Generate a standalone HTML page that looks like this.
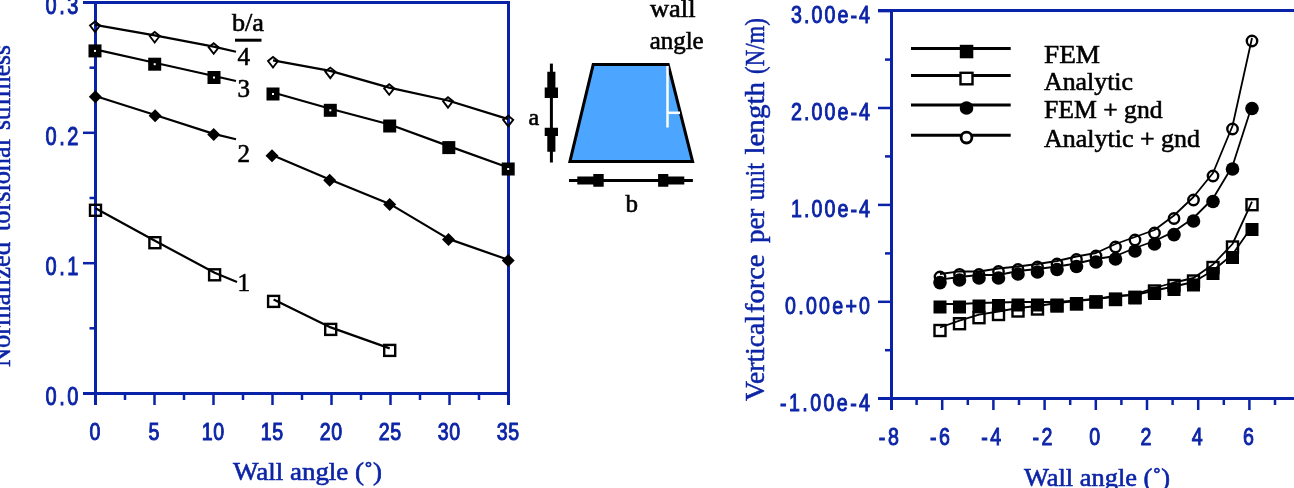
<!DOCTYPE html>
<html><head><meta charset="utf-8"><style>
text{-webkit-font-smoothing:antialiased;}
html,body{margin:0;padding:0;background:#fff;}
svg{display:block;will-change:transform;}
</style></head><body>
<svg width="1294" height="488" viewBox="0 0 1294 488">
<rect width="1294" height="488" fill="#fff"/>
<line x1="83.0" y1="2.5" x2="510.0" y2="2.5" stroke="#0a22a8" stroke-width="3"/>
<line x1="95.5" y1="1.0" x2="95.5" y2="405.0" stroke="#0a22a8" stroke-width="3"/>
<line x1="508.5" y1="1.0" x2="508.5" y2="405.0" stroke="#0a22a8" stroke-width="3"/>
<line x1="83.0" y1="393.5" x2="510.0" y2="393.5" stroke="#0a22a8" stroke-width="3"/>
<line x1="83.0" y1="263.2" x2="95.5" y2="263.2" stroke="#0a22a8" stroke-width="2.5"/>
<line x1="83.0" y1="132.8" x2="95.5" y2="132.8" stroke="#0a22a8" stroke-width="2.5"/>
<line x1="89.5" y1="328.3" x2="95.5" y2="328.3" stroke="#0a22a8" stroke-width="2.5"/>
<line x1="89.5" y1="198.0" x2="95.5" y2="198.0" stroke="#0a22a8" stroke-width="2.5"/>
<line x1="89.5" y1="67.7" x2="95.5" y2="67.7" stroke="#0a22a8" stroke-width="2.5"/>
<line x1="154.5" y1="393.5" x2="154.5" y2="405.0" stroke="#0a22a8" stroke-width="2.5"/>
<line x1="213.5" y1="393.5" x2="213.5" y2="405.0" stroke="#0a22a8" stroke-width="2.5"/>
<line x1="272.5" y1="393.5" x2="272.5" y2="405.0" stroke="#0a22a8" stroke-width="2.5"/>
<line x1="331.5" y1="393.5" x2="331.5" y2="405.0" stroke="#0a22a8" stroke-width="2.5"/>
<line x1="390.5" y1="393.5" x2="390.5" y2="405.0" stroke="#0a22a8" stroke-width="2.5"/>
<line x1="449.5" y1="393.5" x2="449.5" y2="405.0" stroke="#0a22a8" stroke-width="2.5"/>
<line x1="125.0" y1="393.5" x2="125.0" y2="400.0" stroke="#0a22a8" stroke-width="2.5"/>
<line x1="184.0" y1="393.5" x2="184.0" y2="400.0" stroke="#0a22a8" stroke-width="2.5"/>
<line x1="243.0" y1="393.5" x2="243.0" y2="400.0" stroke="#0a22a8" stroke-width="2.5"/>
<line x1="302.0" y1="393.5" x2="302.0" y2="400.0" stroke="#0a22a8" stroke-width="2.5"/>
<line x1="361.0" y1="393.5" x2="361.0" y2="400.0" stroke="#0a22a8" stroke-width="2.5"/>
<line x1="420.0" y1="393.5" x2="420.0" y2="400.0" stroke="#0a22a8" stroke-width="2.5"/>
<line x1="479.0" y1="393.5" x2="479.0" y2="400.0" stroke="#0a22a8" stroke-width="2.5"/>
<text transform="translate(78.5,14.3) scale(0.8,1)" font-family="Liberation Sans" font-size="25" fill="#0c24a6" stroke="#0c24a6" stroke-width="1.0" text-anchor="end" textLength="41.25" lengthAdjust="spacing">0.3</text>
<text transform="translate(78.5,144.6) scale(0.8,1)" font-family="Liberation Sans" font-size="25" fill="#0c24a6" stroke="#0c24a6" stroke-width="1.0" text-anchor="end" textLength="41.25" lengthAdjust="spacing">0.2</text>
<text transform="translate(78.5,275.0) scale(0.8,1)" font-family="Liberation Sans" font-size="25" fill="#0c24a6" stroke="#0c24a6" stroke-width="1.0" text-anchor="end" textLength="41.25" lengthAdjust="spacing">0.1</text>
<text transform="translate(78.5,405.3) scale(0.8,1)" font-family="Liberation Sans" font-size="25" fill="#0c24a6" stroke="#0c24a6" stroke-width="1.0" text-anchor="end" textLength="41.25" lengthAdjust="spacing">0.0</text>
<text transform="translate(95.0,439.5) scale(0.8,1)" font-family="Liberation Sans" font-size="24.5" fill="#0c24a6" stroke="#0c24a6" stroke-width="1.0" text-anchor="middle" textLength="13.12" lengthAdjust="spacing">0</text>
<text transform="translate(154.0,439.5) scale(0.8,1)" font-family="Liberation Sans" font-size="24.5" fill="#0c24a6" stroke="#0c24a6" stroke-width="1.0" text-anchor="middle" textLength="13.12" lengthAdjust="spacing">5</text>
<text transform="translate(213.0,439.5) scale(0.8,1)" font-family="Liberation Sans" font-size="24.5" fill="#0c24a6" stroke="#0c24a6" stroke-width="1.0" text-anchor="middle" textLength="28.12" lengthAdjust="spacing">10</text>
<text transform="translate(272.0,439.5) scale(0.8,1)" font-family="Liberation Sans" font-size="24.5" fill="#0c24a6" stroke="#0c24a6" stroke-width="1.0" text-anchor="middle" textLength="28.12" lengthAdjust="spacing">15</text>
<text transform="translate(331.0,439.5) scale(0.8,1)" font-family="Liberation Sans" font-size="24.5" fill="#0c24a6" stroke="#0c24a6" stroke-width="1.0" text-anchor="middle" textLength="28.12" lengthAdjust="spacing">20</text>
<text transform="translate(390.0,439.5) scale(0.8,1)" font-family="Liberation Sans" font-size="24.5" fill="#0c24a6" stroke="#0c24a6" stroke-width="1.0" text-anchor="middle" textLength="28.12" lengthAdjust="spacing">25</text>
<text transform="translate(449.0,439.5) scale(0.8,1)" font-family="Liberation Sans" font-size="24.5" fill="#0c24a6" stroke="#0c24a6" stroke-width="1.0" text-anchor="middle" textLength="28.12" lengthAdjust="spacing">30</text>
<text transform="translate(508.0,439.5) scale(0.8,1)" font-family="Liberation Sans" font-size="24.5" fill="#0c24a6" stroke="#0c24a6" stroke-width="1.0" text-anchor="middle" textLength="28.12" lengthAdjust="spacing">35</text>
<text x="233.0" y="480.0" font-family="Liberation Serif" font-weight="normal" font-size="26" fill="#0c24a6" stroke="#0c24a6" stroke-width="0.6" text-anchor="start" textLength="149" lengthAdjust="spacingAndGlyphs">Wall angle (&#730;)</text>
<text transform="translate(10.2,367) rotate(-90)" font-family="Liberation Serif" font-size="27" fill="#0c24a6" stroke="#0c24a6" stroke-width="0.5" textLength="125.0" lengthAdjust="spacingAndGlyphs">Normalized</text>
<text transform="translate(10.2,231) rotate(-90)" font-family="Liberation Serif" font-size="27" fill="#0c24a6" stroke="#0c24a6" stroke-width="0.5" textLength="92.0" lengthAdjust="spacingAndGlyphs">torsional</text>
<text transform="translate(10.2,130) rotate(-90)" font-family="Liberation Serif" font-size="27" fill="#0c24a6" stroke="#0c24a6" stroke-width="0.5" textLength="85.0" lengthAdjust="spacingAndGlyphs">stiffness</text>
<polyline points="95.0,24.8 154.7,35.3 213.7,46.6 236.0,51.8" fill="none" stroke="#000" stroke-width="2.2" stroke-linejoin="round"/>
<polyline points="273.0,60.3 330.3,70.9 389.2,87.6 448.0,100.5 508.2,119.1" fill="none" stroke="#000" stroke-width="2.2" stroke-linejoin="round"/>
<polyline points="95.0,49.4 154.7,62.7 214.0,76.0 236.0,81.0" fill="none" stroke="#000" stroke-width="2.2" stroke-linejoin="round"/>
<polyline points="273.0,92.5 330.3,108.8 389.7,124.5 448.8,146.1 508.2,167.5" fill="none" stroke="#000" stroke-width="2.2" stroke-linejoin="round"/>
<polyline points="95.3,96.0 155.1,115.0 213.7,133.9 236.0,139.3" fill="none" stroke="#000" stroke-width="2.2" stroke-linejoin="round"/>
<polyline points="272.0,155.1 329.7,179.5 389.7,203.9 448.5,238.9 508.2,259.8" fill="none" stroke="#000" stroke-width="2.2" stroke-linejoin="round"/>
<polyline points="95.5,208.3 154.9,240.7 214.6,272.8 237.0,282.0" fill="none" stroke="#000" stroke-width="2.2" stroke-linejoin="round"/>
<polyline points="273.6,299.4 330.7,327.4 389.7,348.4" fill="none" stroke="#000" stroke-width="2.2" stroke-linejoin="round"/>
<path d="M90,25.5 L95,21.5 L100,25.5 L95,32 Z" fill="none" stroke="#000" stroke-width="1.9"/>
<path d="M149.7,36.0 L154.7,32.0 L159.7,36.0 L154.7,42.5 Z" fill="none" stroke="#000" stroke-width="1.9"/>
<path d="M208.7,47.3 L213.7,43.3 L218.7,47.3 L213.7,53.8 Z" fill="none" stroke="#000" stroke-width="1.9"/>
<path d="M268,61.0 L273,57.0 L278,61.0 L273,67.5 Z" fill="none" stroke="#000" stroke-width="1.9"/>
<path d="M325.3,71.6 L330.3,67.6 L335.3,71.6 L330.3,78.1 Z" fill="none" stroke="#000" stroke-width="1.9"/>
<path d="M384.2,88.3 L389.2,84.3 L394.2,88.3 L389.2,94.8 Z" fill="none" stroke="#000" stroke-width="1.9"/>
<path d="M443,101.2 L448,97.2 L453,101.2 L448,107.7 Z" fill="none" stroke="#000" stroke-width="1.9"/>
<path d="M503.2,119.8 L508.2,115.8 L513.2,119.8 L508.2,126.3 Z" fill="none" stroke="#000" stroke-width="1.9"/>
<rect x="88.5" y="44.4" width="13" height="13" fill="#000"/>
<rect x="94.0" y="49.9" width="2" height="2" fill="#fff"/>
<rect x="148.2" y="57.7" width="13" height="13" fill="#000"/>
<rect x="153.7" y="63.2" width="2" height="2" fill="#fff"/>
<rect x="207.5" y="71.0" width="13" height="13" fill="#000"/>
<rect x="213.0" y="76.5" width="2" height="2" fill="#fff"/>
<rect x="266.5" y="87.5" width="13" height="13" fill="#000"/>
<rect x="272.0" y="93.0" width="2" height="2" fill="#fff"/>
<rect x="323.8" y="103.8" width="13" height="13" fill="#000"/>
<rect x="329.3" y="109.3" width="2" height="2" fill="#fff"/>
<rect x="383.2" y="119.5" width="13" height="13" fill="#000"/>
<rect x="442.3" y="141.1" width="13" height="13" fill="#000"/>
<rect x="501.7" y="162.5" width="13" height="13" fill="#000"/>
<rect x="507.2" y="168.0" width="2" height="2" fill="#fff"/>
<path d="M88.8,96.7 L95.3,90.2 L101.8,96.7 L95.3,103.2 Z" fill="#000"/>
<path d="M148.6,115.7 L155.1,109.2 L161.6,115.7 L155.1,122.2 Z" fill="#000"/>
<path d="M207.2,134.6 L213.7,128.1 L220.2,134.6 L213.7,141.1 Z" fill="#000"/>
<path d="M265.5,155.8 L272,149.3 L278.5,155.8 L272,162.3 Z" fill="#000"/>
<path d="M323.2,180.2 L329.7,173.7 L336.2,180.2 L329.7,186.7 Z" fill="#000"/>
<path d="M383.2,204.6 L389.7,198.1 L396.2,204.6 L389.7,211.1 Z" fill="#000"/>
<path d="M442.0,239.6 L448.5,233.1 L455.0,239.6 L448.5,246.1 Z" fill="#000"/>
<path d="M501.7,260.5 L508.2,254.0 L514.7,260.5 L508.2,267.0 Z" fill="#000"/>
<rect x="90.0" y="204.8" width="11" height="11" fill="none" stroke="#000" stroke-width="2.4"/>
<rect x="149.4" y="237.2" width="11" height="11" fill="none" stroke="#000" stroke-width="2.4"/>
<rect x="209.1" y="269.3" width="11" height="11" fill="none" stroke="#000" stroke-width="2.4"/>
<rect x="268.1" y="295.9" width="11" height="11" fill="none" stroke="#000" stroke-width="2.4"/>
<rect x="325.2" y="323.9" width="11" height="11" fill="none" stroke="#000" stroke-width="2.4"/>
<rect x="384.2" y="344.9" width="11" height="11" fill="none" stroke="#000" stroke-width="2.4"/>
<text x="232.0" y="30.5" font-family="Liberation Serif" font-weight="normal" font-size="26" fill="#000" stroke="#000" stroke-width="0.6" text-anchor="start" textLength="32" lengthAdjust="spacingAndGlyphs">b/a</text>
<line x1="235.0" y1="40.2" x2="261.5" y2="40.2" stroke="#000" stroke-width="3"/>
<text x="237.5" y="65.4" font-family="Liberation Serif" font-weight="normal" font-size="25" fill="#000" stroke="#000" stroke-width="0.6" text-anchor="start" >4</text>
<text x="237.5" y="97.0" font-family="Liberation Serif" font-weight="normal" font-size="25" fill="#000" stroke="#000" stroke-width="0.6" text-anchor="start" >3</text>
<text x="237.5" y="162.0" font-family="Liberation Serif" font-weight="normal" font-size="25" fill="#000" stroke="#000" stroke-width="0.6" text-anchor="start" >2</text>
<text x="237.5" y="291.0" font-family="Liberation Serif" font-weight="normal" font-size="25" fill="#000" stroke="#000" stroke-width="0.6" text-anchor="start" >1</text>
<path d="M593.2,64.6 L668.2,64.6 L692.6,161.6 L569.9,161.6 Z" fill="#4ca5ff" stroke="#000" stroke-width="3" stroke-linejoin="miter"/>
<line x1="667.5" y1="66.0" x2="667.5" y2="127.5" stroke="#fff" stroke-width="2.5"/>
<line x1="667.5" y1="112.8" x2="680.0" y2="112.8" stroke="#fff" stroke-width="2.5"/>
<line x1="551.4" y1="63.6" x2="551.4" y2="162.5" stroke="#000" stroke-width="3"/>
<path d="M547.3,71.8 L555.4,71.8 L555.4,87.6 L558,87.6 L558,97.9 L544.7,97.9 L544.7,87.6 L547.3,87.6 Z" fill="#000"/>
<path d="M544.7,127.7 L558,127.7 L558,135.9 L555.4,135.9 L555.4,151.7 L547.3,151.7 L547.3,135.9 L544.7,135.9 Z" fill="#000"/>
<text x="528.5" y="125.0" font-family="Liberation Serif" font-weight="normal" font-size="24" fill="#000" stroke="#000" stroke-width="0.6" text-anchor="start" >a</text>
<line x1="569.0" y1="180.4" x2="692.9" y2="180.4" stroke="#000" stroke-width="3"/>
<path d="M577.3,176.4 L593.3,176.4 L593.3,173.9 L603.7,173.9 L603.7,186.8 L593.3,186.8 L593.3,184.4 L577.3,184.4 Z" fill="#000"/>
<path d="M658.1,173.9 L668.3,173.9 L668.3,176.4 L684.3,176.4 L684.3,184.4 L668.3,184.4 L668.3,186.8 L658.1,186.8 Z" fill="#000"/>
<text x="625.5" y="211.6" font-family="Liberation Serif" font-weight="normal" font-size="25" fill="#000" stroke="#000" stroke-width="0.6" text-anchor="start" >b</text>
<text x="650.0" y="17.0" font-family="Liberation Serif" font-weight="normal" font-size="26" fill="#000" stroke="#000" stroke-width="0.6" text-anchor="start" textLength="45.5" lengthAdjust="spacingAndGlyphs">wall</text>
<text x="649.7" y="49.0" font-family="Liberation Serif" font-weight="normal" font-size="26" fill="#000" stroke="#000" stroke-width="0.6" text-anchor="start" textLength="54" lengthAdjust="spacingAndGlyphs">angle</text>
<line x1="878.0" y1="10.5" x2="1294.0" y2="10.5" stroke="#0a22a8" stroke-width="3"/>
<line x1="891.5" y1="9.0" x2="891.5" y2="410.0" stroke="#0a22a8" stroke-width="3"/>
<line x1="878.0" y1="398.5" x2="1294.0" y2="398.5" stroke="#0a22a8" stroke-width="3"/>
<line x1="878.0" y1="11.1" x2="891.0" y2="11.1" stroke="#0a22a8" stroke-width="2.5"/>
<line x1="878.0" y1="108.0" x2="891.0" y2="108.0" stroke="#0a22a8" stroke-width="2.5"/>
<line x1="878.0" y1="204.9" x2="891.0" y2="204.9" stroke="#0a22a8" stroke-width="2.5"/>
<line x1="878.0" y1="301.8" x2="891.0" y2="301.8" stroke="#0a22a8" stroke-width="2.5"/>
<line x1="885.0" y1="59.6" x2="891.0" y2="59.6" stroke="#0a22a8" stroke-width="2.5"/>
<line x1="885.0" y1="156.4" x2="891.0" y2="156.4" stroke="#0a22a8" stroke-width="2.5"/>
<line x1="885.0" y1="253.4" x2="891.0" y2="253.4" stroke="#0a22a8" stroke-width="2.5"/>
<line x1="885.0" y1="350.2" x2="891.0" y2="350.2" stroke="#0a22a8" stroke-width="2.5"/>
<line x1="942.2" y1="398.7" x2="942.2" y2="410.0" stroke="#0a22a8" stroke-width="2.5"/>
<line x1="993.4" y1="398.7" x2="993.4" y2="410.0" stroke="#0a22a8" stroke-width="2.5"/>
<line x1="1044.6" y1="398.7" x2="1044.6" y2="410.0" stroke="#0a22a8" stroke-width="2.5"/>
<line x1="1095.8" y1="398.7" x2="1095.8" y2="410.0" stroke="#0a22a8" stroke-width="2.5"/>
<line x1="1147.0" y1="398.7" x2="1147.0" y2="410.0" stroke="#0a22a8" stroke-width="2.5"/>
<line x1="1198.2" y1="398.7" x2="1198.2" y2="410.0" stroke="#0a22a8" stroke-width="2.5"/>
<line x1="1249.4" y1="398.7" x2="1249.4" y2="410.0" stroke="#0a22a8" stroke-width="2.5"/>
<line x1="1300.6" y1="398.7" x2="1300.6" y2="410.0" stroke="#0a22a8" stroke-width="2.5"/>
<line x1="916.6" y1="398.7" x2="916.6" y2="405.0" stroke="#0a22a8" stroke-width="2.5"/>
<line x1="967.8" y1="398.7" x2="967.8" y2="405.0" stroke="#0a22a8" stroke-width="2.5"/>
<line x1="1019.0" y1="398.7" x2="1019.0" y2="405.0" stroke="#0a22a8" stroke-width="2.5"/>
<line x1="1070.2" y1="398.7" x2="1070.2" y2="405.0" stroke="#0a22a8" stroke-width="2.5"/>
<line x1="1121.4" y1="398.7" x2="1121.4" y2="405.0" stroke="#0a22a8" stroke-width="2.5"/>
<line x1="1172.6" y1="398.7" x2="1172.6" y2="405.0" stroke="#0a22a8" stroke-width="2.5"/>
<line x1="1223.8" y1="398.7" x2="1223.8" y2="405.0" stroke="#0a22a8" stroke-width="2.5"/>
<line x1="1275.0" y1="398.7" x2="1275.0" y2="405.0" stroke="#0a22a8" stroke-width="2.5"/>
<text transform="translate(870.0,23.1) scale(0.8,1)" font-family="Liberation Sans" font-size="24.5" fill="#0c24a6" stroke="#0c24a6" stroke-width="1.0" text-anchor="end" textLength="98.75" lengthAdjust="spacing">3.00e-4</text>
<text transform="translate(870.0,120.0) scale(0.8,1)" font-family="Liberation Sans" font-size="24.5" fill="#0c24a6" stroke="#0c24a6" stroke-width="1.0" text-anchor="end" textLength="98.75" lengthAdjust="spacing">2.00e-4</text>
<text transform="translate(870.0,216.9) scale(0.8,1)" font-family="Liberation Sans" font-size="24.5" fill="#0c24a6" stroke="#0c24a6" stroke-width="1.0" text-anchor="end" textLength="98.75" lengthAdjust="spacing">1.00e-4</text>
<text transform="translate(870.0,313.8) scale(0.8,1)" font-family="Liberation Sans" font-size="24.5" fill="#0c24a6" stroke="#0c24a6" stroke-width="1.0" text-anchor="end" textLength="106.25" lengthAdjust="spacing">0.00e+0</text>
<text transform="translate(870.0,410.7) scale(0.8,1)" font-family="Liberation Sans" font-size="24.5" fill="#0c24a6" stroke="#0c24a6" stroke-width="1.0" text-anchor="end" textLength="112.50" lengthAdjust="spacing">-1.00e-4</text>
<text transform="translate(888.8,445.0) scale(0.8,1)" font-family="Liberation Sans" font-size="24.5" fill="#0c24a6" stroke="#0c24a6" stroke-width="1.0" text-anchor="middle" textLength="25.00" lengthAdjust="spacing">-8</text>
<text transform="translate(940.0,445.0) scale(0.8,1)" font-family="Liberation Sans" font-size="24.5" fill="#0c24a6" stroke="#0c24a6" stroke-width="1.0" text-anchor="middle" textLength="25.00" lengthAdjust="spacing">-6</text>
<text transform="translate(991.2,445.0) scale(0.8,1)" font-family="Liberation Sans" font-size="24.5" fill="#0c24a6" stroke="#0c24a6" stroke-width="1.0" text-anchor="middle" textLength="25.00" lengthAdjust="spacing">-4</text>
<text transform="translate(1042.4,445.0) scale(0.8,1)" font-family="Liberation Sans" font-size="24.5" fill="#0c24a6" stroke="#0c24a6" stroke-width="1.0" text-anchor="middle" textLength="25.00" lengthAdjust="spacing">-2</text>
<text transform="translate(1094.8,445.0) scale(0.8,1)" font-family="Liberation Sans" font-size="24.5" fill="#0c24a6" stroke="#0c24a6" stroke-width="1.0" text-anchor="middle" textLength="13.12" lengthAdjust="spacing">0</text>
<text transform="translate(1146.0,445.0) scale(0.8,1)" font-family="Liberation Sans" font-size="24.5" fill="#0c24a6" stroke="#0c24a6" stroke-width="1.0" text-anchor="middle" textLength="13.12" lengthAdjust="spacing">2</text>
<text transform="translate(1197.2,445.0) scale(0.8,1)" font-family="Liberation Sans" font-size="24.5" fill="#0c24a6" stroke="#0c24a6" stroke-width="1.0" text-anchor="middle" textLength="13.12" lengthAdjust="spacing">4</text>
<text transform="translate(1248.4,445.0) scale(0.8,1)" font-family="Liberation Sans" font-size="24.5" fill="#0c24a6" stroke="#0c24a6" stroke-width="1.0" text-anchor="middle" textLength="13.12" lengthAdjust="spacing">6</text>
<text x="1024.0" y="486.0" font-family="Liberation Serif" font-weight="normal" font-size="26" fill="#0c24a6" stroke="#0c24a6" stroke-width="0.6" text-anchor="start" textLength="146" lengthAdjust="spacingAndGlyphs">Wall angle (&#730;)</text>
<text transform="translate(763.5,401) rotate(-90)" font-family="Liberation Serif" font-size="27" fill="#0c24a6" stroke="#0c24a6" stroke-width="0.5" textLength="86.0" lengthAdjust="spacingAndGlyphs">Vertical</text>
<text transform="translate(763.5,313) rotate(-90)" font-family="Liberation Serif" font-size="27" fill="#0c24a6" stroke="#0c24a6" stroke-width="0.5" textLength="58.4" lengthAdjust="spacingAndGlyphs">force</text>
<text transform="translate(763.5,243) rotate(-90)" font-family="Liberation Serif" font-size="27" fill="#0c24a6" stroke="#0c24a6" stroke-width="0.5" textLength="34.3" lengthAdjust="spacingAndGlyphs">per</text>
<text transform="translate(763.5,200.5) rotate(-90)" font-family="Liberation Serif" font-size="27" fill="#0c24a6" stroke="#0c24a6" stroke-width="0.5" textLength="37.5" lengthAdjust="spacingAndGlyphs">unit</text>
<text transform="translate(763.5,154.6) rotate(-90)" font-family="Liberation Serif" font-size="27" fill="#0c24a6" stroke="#0c24a6" stroke-width="0.5" textLength="72.6" lengthAdjust="spacingAndGlyphs">length</text>
<text transform="translate(763.5,74) rotate(-90)" font-family="Liberation Serif" font-size="27" fill="#0c24a6" stroke="#0c24a6" stroke-width="0.5" textLength="56.0" lengthAdjust="spacingAndGlyphs">(N/m)</text>
<line x1="911.0" y1="48.5" x2="1010.7" y2="48.5" stroke="#000" stroke-width="3"/>
<line x1="911.0" y1="75.5" x2="1010.7" y2="75.5" stroke="#000" stroke-width="3"/>
<line x1="911.0" y1="105.0" x2="1010.7" y2="105.0" stroke="#000" stroke-width="3"/>
<line x1="911.0" y1="135.3" x2="1010.7" y2="135.3" stroke="#000" stroke-width="3"/>
<rect x="959.8" y="44.8" width="13.5" height="13.5" fill="#000"/>
<rect x="960.5" y="72.8" width="12" height="11.5" fill="#fff" stroke="#000" stroke-width="2.4"/>
<circle cx="966.5" cy="108" r="6.8" fill="#000"/>
<circle cx="966.5" cy="137.6" r="5.4" fill="#fff" stroke="#000" stroke-width="2.8"/>
<text x="1044.0" y="63.3" font-family="Liberation Serif" font-weight="normal" font-size="26" fill="#000" stroke="#000" stroke-width="0.6" text-anchor="start" textLength="56" lengthAdjust="spacingAndGlyphs">FEM</text>
<text x="1044.0" y="90.0" font-family="Liberation Serif" font-weight="normal" font-size="26" fill="#000" stroke="#000" stroke-width="0.6" text-anchor="start" textLength="89" lengthAdjust="spacingAndGlyphs">Analytic</text>
<text x="1044.0" y="118.0" font-family="Liberation Serif" font-weight="normal" font-size="26" fill="#000" stroke="#000" stroke-width="0.6" text-anchor="start" textLength="118.6" lengthAdjust="spacingAndGlyphs">FEM + gnd</text>
<text x="1044.0" y="147.3" font-family="Liberation Serif" font-weight="normal" font-size="26" fill="#000" stroke="#000" stroke-width="0.6" text-anchor="start" textLength="156" lengthAdjust="spacingAndGlyphs">Analytic + gnd</text>
<polyline points="940.0,327.5 959.5,320.7 979.0,314.7 998.5,311.5 1018.0,308.0 1037.5,306.0 1057.0,303.0 1076.5,301.0 1096.0,299.0 1115.5,296.5 1135.0,294.3 1154.5,288.0 1174.0,282.5 1193.5,278.0 1213.0,264.5 1232.5,244.0 1252.0,201.7" fill="none" stroke="#000" stroke-width="1.8" stroke-linejoin="round"/>
<polyline points="940.0,274.0 959.5,271.4 979.0,271.5 998.5,268.5 1018.0,266.5 1037.5,264.0 1057.0,261.0 1076.5,256.5 1096.0,253.0 1115.5,244.0 1135.0,237.0 1154.5,230.0 1174.0,215.5 1193.5,197.0 1213.0,173.0 1232.5,126.0 1252.0,38.0" fill="none" stroke="#000" stroke-width="1.8" stroke-linejoin="round"/>
<polyline points="940.0,304.0 959.5,304.0 979.0,303.0 998.5,302.5 1018.0,302.0 1037.5,302.0 1057.0,302.0 1076.5,300.5 1096.0,298.8 1115.5,296.0 1135.0,295.0 1154.5,290.5 1174.0,286.5 1193.5,282.0 1213.0,270.5 1232.5,254.5 1252.0,226.5" fill="none" stroke="#000" stroke-width="1.8" stroke-linejoin="round"/>
<polyline points="940.0,279.6 959.5,277.0 979.0,275.0 998.5,275.0 1018.0,271.0 1037.5,269.0 1057.0,266.5 1076.5,263.5 1096.0,259.0 1115.5,256.0 1135.0,248.0 1154.5,241.0 1174.0,231.6 1193.5,218.0 1213.0,198.5 1232.5,166.0 1252.0,105.5" fill="none" stroke="#000" stroke-width="1.8" stroke-linejoin="round"/>
<rect x="934.5" y="325.0" width="11" height="11" fill="none" stroke="#000" stroke-width="2.4"/>
<rect x="954.0" y="318.2" width="11" height="11" fill="none" stroke="#000" stroke-width="2.4"/>
<rect x="973.5" y="312.2" width="11" height="11" fill="none" stroke="#000" stroke-width="2.4"/>
<rect x="993.0" y="309.0" width="11" height="11" fill="none" stroke="#000" stroke-width="2.4"/>
<rect x="1012.5" y="305.5" width="11" height="11" fill="none" stroke="#000" stroke-width="2.4"/>
<rect x="1032.0" y="303.5" width="11" height="11" fill="none" stroke="#000" stroke-width="2.4"/>
<rect x="1051.5" y="300.5" width="11" height="11" fill="none" stroke="#000" stroke-width="2.4"/>
<rect x="1071.0" y="298.5" width="11" height="11" fill="none" stroke="#000" stroke-width="2.4"/>
<rect x="1090.5" y="296.5" width="11" height="11" fill="none" stroke="#000" stroke-width="2.4"/>
<rect x="1110.0" y="294.0" width="11" height="11" fill="none" stroke="#000" stroke-width="2.4"/>
<rect x="1129.5" y="291.8" width="11" height="11" fill="none" stroke="#000" stroke-width="2.4"/>
<rect x="1149.0" y="285.5" width="11" height="11" fill="none" stroke="#000" stroke-width="2.4"/>
<rect x="1168.5" y="280.0" width="11" height="11" fill="none" stroke="#000" stroke-width="2.4"/>
<rect x="1188.0" y="275.5" width="11" height="11" fill="none" stroke="#000" stroke-width="2.4"/>
<rect x="1207.5" y="262.0" width="11" height="11" fill="none" stroke="#000" stroke-width="2.4"/>
<rect x="1227.0" y="241.5" width="11" height="11" fill="none" stroke="#000" stroke-width="2.4"/>
<rect x="1246.5" y="199.2" width="11" height="11" fill="none" stroke="#000" stroke-width="2.4"/>
<rect x="933.5" y="300.5" width="13" height="13" fill="#000"/>
<rect x="953.0" y="300.5" width="13" height="13" fill="#000"/>
<rect x="972.5" y="299.5" width="13" height="13" fill="#000"/>
<rect x="992.0" y="299.0" width="13" height="13" fill="#000"/>
<rect x="1011.5" y="298.5" width="13" height="13" fill="#000"/>
<rect x="1031.0" y="298.5" width="13" height="13" fill="#000"/>
<rect x="1050.5" y="298.5" width="13" height="13" fill="#000"/>
<rect x="1070.0" y="297.0" width="13" height="13" fill="#000"/>
<rect x="1089.5" y="295.3" width="13" height="13" fill="#000"/>
<rect x="1109.0" y="292.5" width="13" height="13" fill="#000"/>
<rect x="1128.5" y="291.5" width="13" height="13" fill="#000"/>
<rect x="1148.0" y="287.0" width="13" height="13" fill="#000"/>
<rect x="1167.5" y="283.0" width="13" height="13" fill="#000"/>
<rect x="1187.0" y="278.5" width="13" height="13" fill="#000"/>
<rect x="1206.5" y="267.0" width="13" height="13" fill="#000"/>
<rect x="1226.0" y="251.0" width="13" height="13" fill="#000"/>
<rect x="1245.5" y="223.0" width="13" height="13" fill="#000"/>
<circle cx="940.0" cy="277.0" r="5.2" fill="none" stroke="#000" stroke-width="2.4"/>
<circle cx="959.5" cy="274.4" r="5.2" fill="none" stroke="#000" stroke-width="2.4"/>
<circle cx="979.0" cy="274.5" r="5.2" fill="none" stroke="#000" stroke-width="2.4"/>
<circle cx="998.5" cy="271.5" r="5.2" fill="none" stroke="#000" stroke-width="2.4"/>
<circle cx="1018.0" cy="269.5" r="5.2" fill="none" stroke="#000" stroke-width="2.4"/>
<circle cx="1037.5" cy="267.0" r="5.2" fill="none" stroke="#000" stroke-width="2.4"/>
<circle cx="1057.0" cy="264.0" r="5.2" fill="none" stroke="#000" stroke-width="2.4"/>
<circle cx="1076.5" cy="259.5" r="5.2" fill="none" stroke="#000" stroke-width="2.4"/>
<circle cx="1096.0" cy="256.0" r="5.2" fill="none" stroke="#000" stroke-width="2.4"/>
<circle cx="1115.5" cy="247.0" r="5.2" fill="none" stroke="#000" stroke-width="2.4"/>
<circle cx="1135.0" cy="240.0" r="5.2" fill="none" stroke="#000" stroke-width="2.4"/>
<circle cx="1154.5" cy="233.0" r="5.2" fill="none" stroke="#000" stroke-width="2.4"/>
<circle cx="1174.0" cy="218.5" r="5.2" fill="none" stroke="#000" stroke-width="2.4"/>
<circle cx="1193.5" cy="200.0" r="5.2" fill="none" stroke="#000" stroke-width="2.4"/>
<circle cx="1213.0" cy="176.0" r="5.2" fill="none" stroke="#000" stroke-width="2.4"/>
<circle cx="1232.5" cy="129.0" r="5.2" fill="none" stroke="#000" stroke-width="2.4"/>
<circle cx="1252.0" cy="41.0" r="5.2" fill="none" stroke="#000" stroke-width="2.4"/>
<circle cx="940.0" cy="282.6" r="6.8" fill="#000"/>
<circle cx="959.5" cy="280.0" r="6.8" fill="#000"/>
<circle cx="979.0" cy="278.0" r="6.8" fill="#000"/>
<circle cx="998.5" cy="278.0" r="6.8" fill="#000"/>
<circle cx="1018.0" cy="274.0" r="6.8" fill="#000"/>
<circle cx="1037.5" cy="272.0" r="6.8" fill="#000"/>
<circle cx="1057.0" cy="269.5" r="6.8" fill="#000"/>
<circle cx="1076.5" cy="266.5" r="6.8" fill="#000"/>
<circle cx="1096.0" cy="262.0" r="6.8" fill="#000"/>
<circle cx="1115.5" cy="259.0" r="6.8" fill="#000"/>
<circle cx="1135.0" cy="251.0" r="6.8" fill="#000"/>
<circle cx="1154.5" cy="244.0" r="6.8" fill="#000"/>
<circle cx="1174.0" cy="234.6" r="6.8" fill="#000"/>
<circle cx="1193.5" cy="221.0" r="6.8" fill="#000"/>
<circle cx="1213.0" cy="201.5" r="6.8" fill="#000"/>
<circle cx="1232.5" cy="169.0" r="6.8" fill="#000"/>
<circle cx="1252.0" cy="108.5" r="6.8" fill="#000"/>
</svg></body></html>
